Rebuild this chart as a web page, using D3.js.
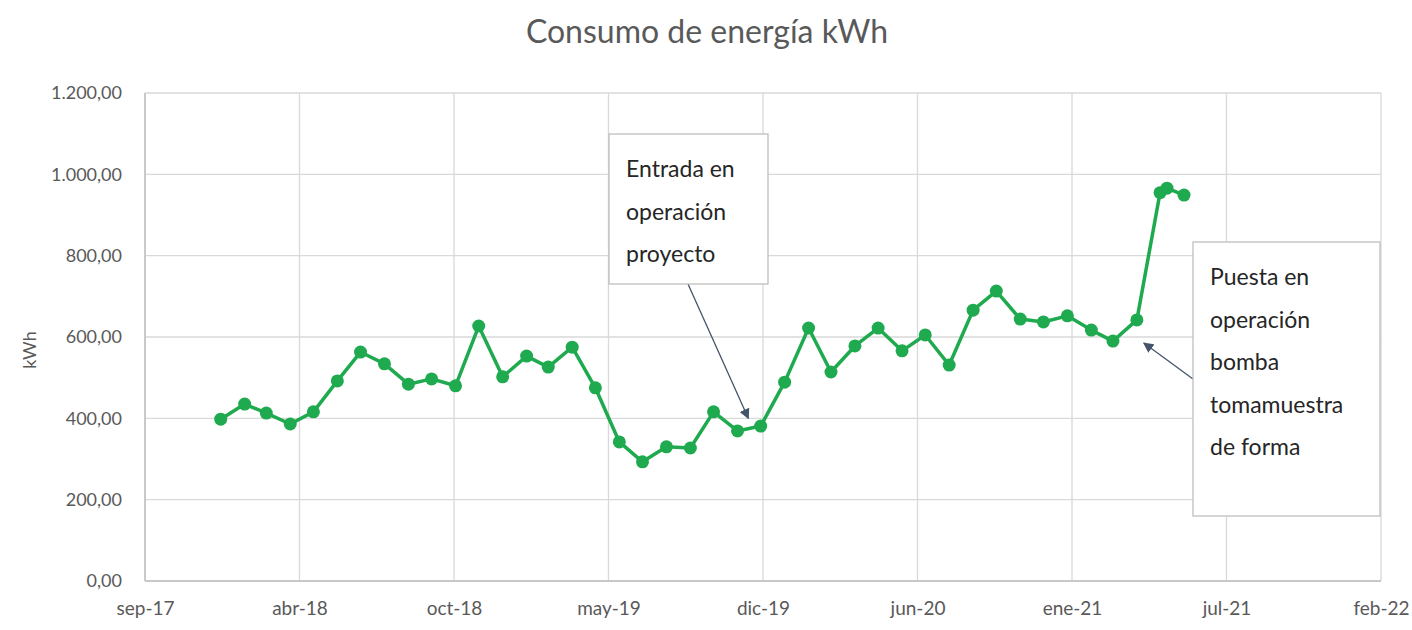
<!DOCTYPE html>
<html>
<head>
<meta charset="utf-8">
<script src="https://cdn.jsdelivr.net/npm/d3@7"></script>
<style>
  body { margin: 0; background: #fff; }
  svg { display: block; font-family: Lato, "Open Sans", sans-serif; }
</style>
</head>
<body>
<svg id="chart" width="1412" height="630"></svg>
<script>
// Monthly energy consumption (kWh)
const dates = [
  "2018-01-01","2018-02-01","2018-03-01","2018-04-01","2018-05-01","2018-06-01",
  "2018-07-01","2018-08-01","2018-09-01","2018-10-01","2018-11-01","2018-12-01",
  "2019-01-01","2019-02-01","2019-03-01","2019-04-01","2019-05-01","2019-06-01",
  "2019-07-01","2019-08-01","2019-09-01","2019-10-01","2019-11-01","2019-12-01",
  "2020-01-01","2020-02-01","2020-03-01","2020-04-01","2020-05-01","2020-06-01",
  "2020-07-01","2020-08-01","2020-09-01","2020-10-01","2020-11-01","2020-12-01",
  "2021-01-01","2021-02-01","2021-03-01","2021-04-01","2021-05-01","2021-05-10",
  "2021-06-01"
];
const consumo = [
  398, 435, 413, 386, 416, 492, 563, 534, 484, 497, 480, 627,
  502, 553, 526, 575, 475, 342, 293, 330, 327, 416, 369, 381,
  489, 622, 514, 578, 622, 566, 605, 531, 666, 713, 644, 637,
  652, 617, 590, 642, 955, 966, 949
];

// Axis settings (Excel date axis, 200-day major unit)
const xStart = "2017-09-25";
const xEnd = "2022-02-11";
const xStepDays = 200;
const yTicks = [0, 200, 400, 600, 800, 1000, 1200];

// Callouts
const notes = [
  { lines: ["Entrada en", "operación", "proyecto"], date: "2019-11-15", value: 400 },
  { lines: ["Puesta en", "operación", "bomba", "tomamuestra", "de forma"], date: "2021-04-10", value: 585 }
];

const svg = d3.select("#chart");
const parse = d3.timeParse("%Y-%m-%d");

const es = d3.timeFormatLocale({
  dateTime: "%A, %e de %B de %Y, %X", date: "%d/%m/%Y", time: "%H:%M:%S",
  periods: ["AM", "PM"],
  days: ["domingo","lunes","martes","miércoles","jueves","viernes","sábado"],
  shortDays: ["dom","lun","mar","mié","jue","vie","sáb"],
  months: ["enero","febrero","marzo","abril","mayo","junio","julio","agosto","septiembre","octubre","noviembre","diciembre"],
  shortMonths: ["ene","feb","mar","abr","may","jun","jul","ago","sep","oct","nov","dic"]
});
const fmtDate = es.format("%b-%y");
const fmtNum = d3.formatLocale({ decimal: ",", thousands: ".", grouping: [3] }).format(",.2f");

const x = d3.scaleTime()
  .domain([parse(xStart), parse(xEnd)])
  .range([145, 1381]);
const y = d3.scaleLinear()
  .domain([0, 1200])
  .range([581, 93]);

const xTicks = d3.range(0, 9).map(i => d3.timeDay.offset(parse(xStart), i * xStepDays));

const data = dates.map((d, i) => ({ date: parse(d), value: consumo[i] }));

const grid = "#d9d9d9";
const textGray = "#595959";
const green = "#1faa4f";

// Gridlines
svg.append("g")
  .selectAll("line")
  .data(yTicks)
  .join("line")
  .attr("x1", x.range()[0]).attr("x2", x.range()[1])
  .attr("y1", d => y(d)).attr("y2", d => y(d))
  .attr("stroke", grid).attr("stroke-width", 1.3);

svg.append("g")
  .selectAll("line")
  .data(xTicks)
  .join("line")
  .attr("x1", d => x(d)).attr("x2", d => x(d))
  .attr("y1", y(0)).attr("y2", y(1200))
  .attr("stroke", grid).attr("stroke-width", 1.3);

// Axis lines
svg.append("line")
  .attr("x1", x.range()[0]).attr("x2", x.range()[1])
  .attr("y1", y(0)).attr("y2", y(0))
  .attr("stroke", "#bfbfbf").attr("stroke-width", 1.5);
svg.append("line")
  .attr("x1", x.range()[0]).attr("x2", x.range()[0])
  .attr("y1", y(0)).attr("y2", y(1200))
  .attr("stroke", "#bfbfbf").attr("stroke-width", 1.5);

// Tick labels
const yAxis = svg.append("g")
  .attr("transform", "translate(145,0)")
  .call(d3.axisLeft(y).tickValues(yTicks).tickSize(0).tickPadding(23).tickFormat(fmtNum));
yAxis.select(".domain").remove();
yAxis.selectAll("text").attr("fill", textGray).attr("font-size", 18).attr("font-family", "Lato");

const xAxis = svg.append("g")
  .attr("transform", `translate(0,${y(0)})`)
  .call(d3.axisBottom(x).tickValues(xTicks).tickSize(0).tickPadding(21).tickFormat(fmtDate));
xAxis.select(".domain").remove();
xAxis.selectAll("text").attr("fill", textGray).attr("font-size", 19).attr("font-family", "Lato");

// Axis title
svg.append("text")
  .attr("transform", "translate(36,350) rotate(-90)")
  .attr("text-anchor", "middle")
  .attr("fill", textGray)
  .attr("font-size", 18)
  .text("kWh");

// Title
svg.append("text")
  .attr("x", 707)
  .attr("y", 43)
  .attr("text-anchor", "middle")
  .attr("fill", textGray)
  .attr("font-size", 32)
  .text("Consumo de energía kWh");

// Series
const line = d3.line().x(d => x(d.date)).y(d => y(d.value));
svg.append("path")
  .datum(data)
  .attr("fill", "none")
  .attr("stroke", green)
  .attr("stroke-width", 3.5)
  .attr("stroke-linejoin", "round")
  .attr("d", line);

svg.append("g")
  .selectAll("circle")
  .data(data)
  .join("circle")
  .attr("cx", d => x(d.date))
  .attr("cy", d => y(d.value))
  .attr("r", 6.5)
  .attr("fill", green);

// Callout boxes with arrows
svg.append("defs").append("marker")
  .attr("id", "arrow")
  .attr("viewBox", "0 0 10 10")
  .attr("refX", 9).attr("refY", 5)
  .attr("markerWidth", 8).attr("markerHeight", 8)
  .attr("orient", "auto")
  .append("path")
  .attr("d", "M0,0 L10,5 L0,10 Z")
  .attr("fill", "#44546a");

const boxes = [
  { left: 609, top: 134, width: 159, height: 150, from: [688, 284] },
  { left: 1193, top: 242, width: 187, height: 274, from: [1193, 379] }
];

notes.forEach((n, i) => {
  const b = boxes[i];
  svg.append("line")
    .attr("x1", b.from[0]).attr("y1", b.from[1])
    .attr("x2", x(parse(n.date))).attr("y2", y(n.value))
    .attr("stroke", "#44546a").attr("stroke-width", 1.3)
    .attr("marker-end", "url(#arrow)");
  svg.append("rect")
    .attr("x", b.left).attr("y", b.top)
    .attr("width", b.width).attr("height", b.height)
    .attr("fill", "#fff")
    .attr("stroke", "#bfbfbf").attr("stroke-width", 1.3);
  svg.append("text")
    .attr("x", b.left + 17)
    .attr("y", b.top + 43)
    .attr("fill", "#262626")
    .attr("font-size", 23)
    .selectAll("tspan")
    .data(n.lines)
    .join("tspan")
    .attr("x", b.left + 17)
    .attr("dy", (d, j) => j === 0 ? 0 : 42.5)
    .text(d => d);
});
</script>
</body>
</html>
